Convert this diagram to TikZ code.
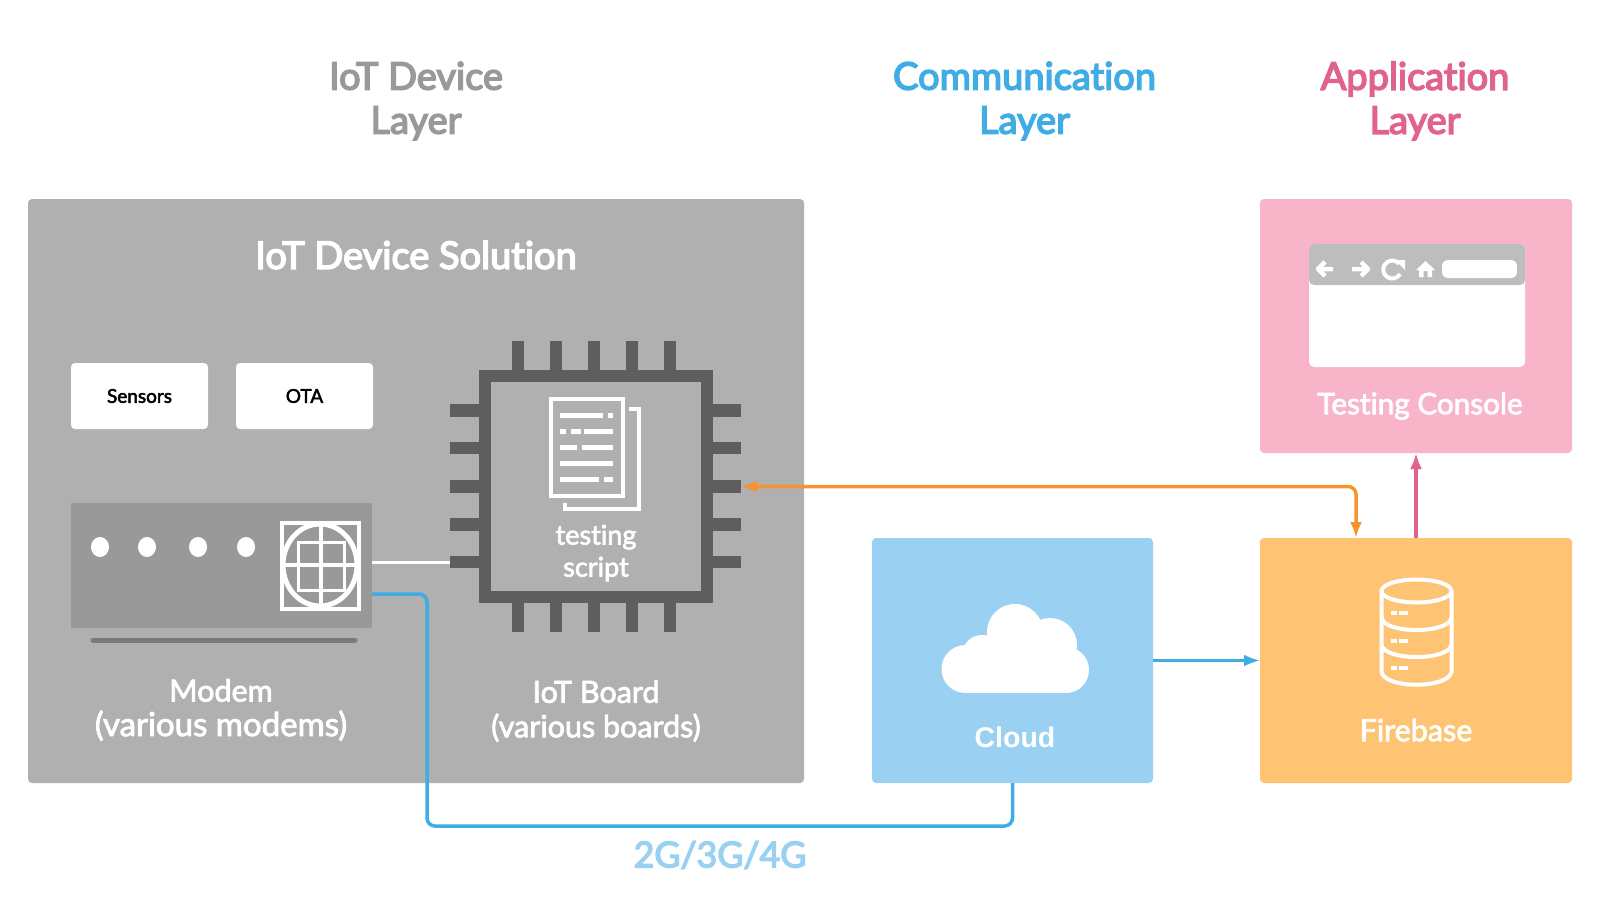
\documentclass[tikz,border=0pt]{standalone}
\usepackage{fontspec}
\setmainfont[Ligatures=NoCommon,FakeBold=2.5]{Lato}
\newfontfamily\latomed[Ligatures=NoCommon,FakeBold=4]{Lato}
\newfontfamily\arialbold{Liberation Sans}
\usetikzlibrary{calc,arrows.meta}
\definecolor{devicegray}{HTML}{B0B0B0}
\definecolor{modemgray}{HTML}{999999}
\definecolor{chipgray}{HTML}{5E5E5E}
\definecolor{barsgray}{HTML}{BDBDBD}
\definecolor{cloudblue}{HTML}{9AD1F3}
\definecolor{linkblue}{HTML}{3FACE4}
\definecolor{consolepink}{HTML}{F8B4C8}
\definecolor{linkpink}{HTML}{E0638C}
\definecolor{baseorange}{HTML}{FFC374}
\definecolor{linkorange}{HTML}{F7942D}
\tikzset{
    layerbox/.style={rounded corners=4pt,inner sep=0pt,outer sep=0pt},
    tag/.style={layerbox,fill=white,minimum width=137pt,minimum height=66pt,font=\fontsize{19}{22}\selectfont,text=black},
    pin/.style={fill=chipgray,inner sep=0pt,outer sep=0pt},
    title/.style={align=center,font=\fontsize{38}{44}\selectfont\latomed},
    caption/.style={align=center,text=white,font=\fontsize{30.5}{34.5}\selectfont},
    link/.style={line width=3.5pt,rounded corners=8pt,>={Latex[length=16pt,width=12pt]}},
    icon/.style={white,line width=4pt},
}
\begin{document}
\begin{tikzpicture}[x=1pt,y=-1pt]
    \useasboundingbox (0,0) rectangle (1600,905);
    % layer titles
    \node[title,text=modemgray] (devicetitle) at (416,101) {IoT Device\\Layer};
    \node[title,text=linkblue] (commtitle) at (1024.5,101) {Communication\\Layer};
    \node[title,text=linkpink] (apptitle) at (1415,101) {Application\\Layer};
    % big boxes
    \node[layerbox,fill=devicegray,minimum width=776pt,minimum height=584pt] (device) at (416,491) {};
    \node[layerbox,fill=consolepink,minimum width=312pt,minimum height=254pt] (console) at (1416,326) {};
    \node[layerbox,fill=baseorange,minimum width=312pt,minimum height=245pt] (firebase) at (1416,660.5) {};
    \node[layerbox,fill=cloudblue,minimum width=281pt,minimum height=245pt] (cloud) at (1012.5,660.5) {};
    \node[text=white,font=\fontsize{38}{44}\selectfont\latomed] (solution) at (416,255) {IoT Device Solution};
    % sensors, OTA
    \node[tag] (sensors) at (139.5,396) {\raisebox{-1pt}{Sensors}};
    \node[tag] (ota) at (304.5,396) {\raisebox{-1pt}{OTA}};
    % modem
    \node[fill=modemgray,inner sep=0pt,outer sep=0pt,minimum width=301pt,minimum height=125pt] (modem) at (221.5,565.5) {};
    \foreach \x in {100,147,198,246}
    \fill[white] (\x,547) ellipse [x radius=9pt,y radius=10pt];
    \draw[white,line width=4pt] (282,523) rectangle (359,609);
    \draw[white,line width=5pt] (320,565) ellipse [x radius=37pt,y radius=41pt];
    \draw[white,line width=3pt] (298,542) rectangle (344,590);
    \draw[white,line width=4pt] (321,524) -- (321,606);
    \draw[white,line width=4pt] (283,565) -- (358,565);
    \draw[line width=5pt,color=black!52,line cap=round] (93,640) -- (355,640);
    \node[caption] (modemtext) at (221,710) {Modem\\{\fontsize{33}{34.5}\selectfont (various modems)}};
    % board
    \draw[chipgray,line width=12pt] (485,376) rectangle (707,597);
    \foreach \i/\x in {1/518,2/556,3/594,4/632,5/670}{
        \node[pin,minimum width=12pt,minimum height=29pt] (pint\i) at (\x,355.5) {};
        \node[pin,minimum width=12pt,minimum height=29pt] (pinb\i) at (\x,617.5) {};
    }
    \foreach \i/\y in {1/410.5,2/448,3/486.5,4/524.5,5/562}{
        \node[pin,minimum width=29pt,minimum height=12.5pt] (pinl\i) at (464.5,\y) {};
        \node[pin,minimum width=28pt,minimum height=12.5pt] (pinr\i) at (727,\y) {};
    }
    \node[caption] (boardtext) at (596,711) {IoT Board\\(various boards)};
    % script sheet
    \draw[white,line width=4.5pt] (551,399) rectangle (623,496);
    \draw[white,line width=4pt] (629,409) -- (639,409) -- (639,509) -- (565,509) -- (565,503);
    \foreach \xa/\xb/\y in {560/603/415,608/613/415,560/566/431,571/581/431,584/613/431,560/577/447,582/613/447,560/613/463,560/599/479,604/613/479}
    \draw[white,line width=5pt] (\xa,\y) -- (\xb,\y);
    \node[caption,font=\fontsize{27}{32}\selectfont] (scripttext) at (596,553) {testing\\script};
    % browser
    \fill[white,rounded corners=5pt] (1309,244) rectangle (1525,367);
    \fill[barsgray,rounded corners=5pt] (1309,244) -- (1525,244) -- (1525,285) -- (1309,285) -- cycle;
    \fill[white,rounded corners=6pt] (1442,260) rectangle (1517,278);
    \draw[white,line width=4.5pt,line join=round] (1333,269) -- (1319,269) (1325,262) -- (1318,269) -- (1325,276);
    \draw[white,line width=4.5pt,line join=round] (1352,269) -- (1367,269) (1361,262) -- (1368,269) -- (1361,276);
    \draw[white,line width=4pt] (1400,274) arc [start angle=-30,end angle=-320,radius=9pt];
    \fill[white] (1395,260) -- (1405,260) -- (1405,270) -- cycle;
    \fill[white] (1425.5,261) -- (1435,270) -- (1432,270) -- (1432,277) -- (1427.5,277) -- (1427.5,271) -- (1423.5,271) -- (1423.5,277) -- (1419,277) -- (1419,270) -- (1416,270) -- cycle;
    \node[caption,font=\fontsize{29.7}{34}\selectfont] (consoletext) at (1420,406) {Testing Console};
    % database
    \draw[icon] (1416.5,591) ellipse [x radius=35pt,y radius=11.5pt];
    \draw[icon] (1381.5,591) -- (1381.5,672) .. controls (1385,689) and (1448,689) .. (1451.5,672) -- (1451.5,591);
    \draw[icon] (1381.5,618) .. controls (1385,634) and (1448,634) .. (1451.5,618);
    \draw[icon] (1381.5,645) .. controls (1385,661) and (1448,661) .. (1451.5,645);
    \foreach \y in {613,641,668}{
        \draw[white,line width=4pt] (1391,\y) -- (1397,\y);
        \draw[white,line width=4pt] (1399,\y) -- (1408,\y);
    }
    \node[caption] (firebasetext) at (1416,730) {Firebase};
    % cloud shape
    \fill[white] (965.5,669) circle (24pt);
    \fill[white] (982,655) circle (20pt);
    \fill[white] (1015,632) circle (28pt);
    \fill[white] (1050,645) circle (27pt);
    \fill[white] (1066,670) circle (23pt);
    \fill[white] (965,650) rectangle (1066,693);
    \node[text=white,font=\fontsize{28.5}{32}\selectfont\arialbold\bfseries] (cloudtext) at (1015,737) {Cloud};
    % connectors
    \coordinate (gsmbend) at (427,826);
    \draw[white,line width=3pt] (modem.east |- pinl5) -- (pinl5.west);
    \draw[link,linkblue] ([yshift=-28.5pt]modem.east) -| (gsmbend) -| (cloud.south);
    \draw[link,linkblue,->] (cloud.east) -- (firebase.west);
    \draw[link,linkpink,->] (firebase.north) -- (console.south);
    \draw[link,linkorange,<->] (pinr3.east) -| ([xshift=-60pt]firebase.north);
    \node[font=\fontsize{35.7}{42}\selectfont\latomed,text=cloudblue] (gsmtext) at (720,855) {2G/3G/4G};
\end{tikzpicture}
\end{document}
